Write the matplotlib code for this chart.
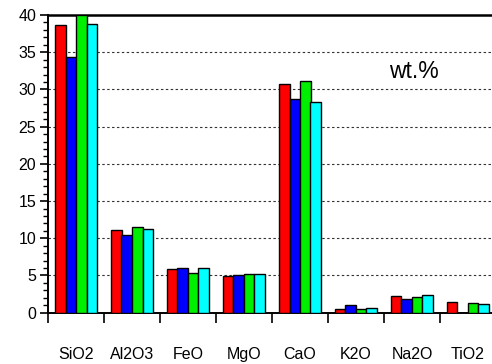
import numpy as np
import matplotlib.pyplot as plt
from matplotlib.ticker import MultipleLocator

plt.rcParams['font.family'] = ['Liberation Sans', 'DejaVu Sans']

# oxide contents, wt.%
oxides = ['SiO2', 'Al2O3', 'FeO', 'MgO', 'CaO', 'K2O', 'Na2O', 'TiO2']
red_vals = [38.6, 11.1, 5.85, 4.9, 30.7, 0.5, 2.2, 1.4]
blue_vals = [34.4, 10.5, 6.0, 5.05, 28.7, 1.0, 1.85, 0.0]
green_vals = [40.0, 11.45, 5.35, 5.25, 31.1, 0.45, 2.1, 1.25]
cyan_vals = [38.8, 11.3, 5.95, 5.25, 28.3, 0.6, 2.4, 1.15]

series = [red_vals, blue_vals, green_vals, cyan_vals]
colors = ['#ff0000', '#0000ff', '#00ee00', '#00ffff']

fig = plt.figure(figsize=(4.92, 3.64), dpi=100)
ax = fig.add_axes([48 / 492, 51.3 / 364, 448 / 492, 297.7 / 364])

x = np.arange(len(oxides)) + 0.5
w = 0.1875
for k, (vals, c) in enumerate(zip(series, colors)):
    ax.bar(x + (k - 1.5) * w, vals, width=w, color=c, edgecolor='black',
           linewidth=1.0, zorder=3)

ax.set_xlim(0, len(oxides))
ax.set_ylim(0, 40)

# grid lines
for yv in range(5, 40, 5):
    ax.axhline(yv, color='#333333', linestyle=(0, (2.2, 2.2)), linewidth=0.8, zorder=1)

ax.yaxis.set_major_locator(MultipleLocator(5))
ax.yaxis.set_minor_locator(MultipleLocator(1))
ax.tick_params(axis='y', which='major', length=6, width=1.2, direction='out',
               labelsize=11.5, pad=2.5)
ax.tick_params(axis='y', which='minor', length=3.5, width=1.0, direction='out')

ax.set_xticks(np.arange(len(oxides) + 1))
ax.set_xticklabels([])
ax.set_xticks(x, minor=True)
ax.set_xticklabels(oxides, minor=True)
ax.tick_params(axis='x', which='major', length=7.5, width=1.2, direction='out')
ax.tick_params(axis='x', which='minor', length=0, labelsize=11.5, pad=25)

ax.spines['right'].set_visible(False)
ax.spines['top'].set_linewidth(1.8)
ax.spines['left'].set_linewidth(1.4)
ax.spines['bottom'].set_linewidth(1.4)

ax.text(6.54, 32.4, 'wt.%', fontsize=16.5, ha='center', va='center')

fig.savefig('out.png', dpi=100)
